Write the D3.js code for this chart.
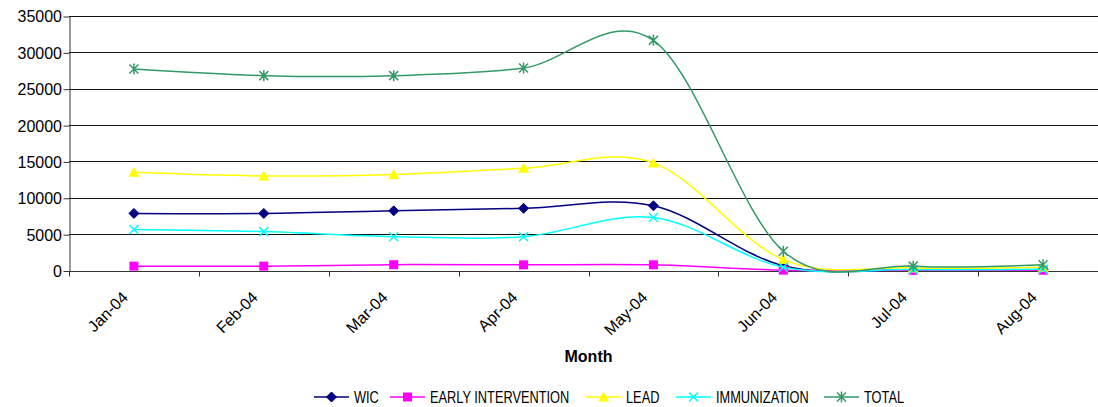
<!DOCTYPE html>
<html>
<head>
<meta charset="utf-8">
<script src="https://cdn.jsdelivr.net/npm/d3@7"></script>
<style>
  html, body { margin: 0; padding: 0; background: #fff; }
  svg { display: block; font-family: "Liberation Sans", Arial, sans-serif; }
</style>
</head>
<body>
<svg id="chart" width="1098" height="407"></svg>
<script>
// Monthly counts by program, 2004
const months = ["Jan-04", "Feb-04", "Mar-04", "Apr-04", "May-04", "Jun-04", "Jul-04", "Aug-04"];
const wic = [7850, 7850, 8200, 8550, 8900, 650, 100, 150];
const earlyIntervention = [600, 600, 800, 780, 780, 50, 30, 40];
const lead = [13500, 13000, 13200, 14050, 14800, 1500, 350, 450];
const immunization = [5650, 5350, 4650, 4650, 7300, 450, 120, 160];
const total = [27700, 26800, 26800, 27850, 31650, 2650, 600, 800];
const yTicks = [0, 5000, 10000, 15000, 20000, 25000, 30000, 35000];

const series = [
  { name: "WIC", values: wic, color: "#000080", marker: "diamond" },
  { name: "EARLY INTERVENTION", values: earlyIntervention, color: "#FF00FF", marker: "square" },
  { name: "LEAD", values: lead, color: "#FFFF00", marker: "triangle" },
  { name: "IMMUNIZATION", values: immunization, color: "#00FFFF", marker: "cross" },
  { name: "TOTAL", values: total, color: "#339966", marker: "star" }
];

const svg = d3.select("#chart");
const plot = { left: 69, right: 1108, top: 16, bottom: 270.5 };

const x = d3.scaleBand().domain(months).range([plot.left, plot.right]);
const y = d3.scaleLinear().domain([0, 35000]).range([plot.bottom, plot.top]);

// horizontal gridlines
svg.append("g")
  .selectAll("line")
  .data(yTicks)
  .join("line")
  .attr("x1", plot.left).attr("x2", plot.right)
  .attr("y1", d => Math.round(y(d)) + 0.5).attr("y2", d => Math.round(y(d)) + 0.5)
  .attr("stroke", "#111").attr("stroke-width", 1);

// y axis
const yAxis = svg.append("g")
  .attr("transform", `translate(${plot.left + 0.5},0.5)`)
  .call(d3.axisLeft(y).tickValues(yTicks).tickFormat(d3.format("d")).tickSize(6).tickSizeOuter(0));
yAxis.select(".domain").attr("stroke", "#333");
yAxis.selectAll(".tick line").attr("stroke", "#333");
yAxis.selectAll(".tick text")
  .attr("font-size", 16).attr("fill", "#000").attr("x", -7.5).attr("dy", "0.34em");

// x axis with ticks between categories
const xAxisG = svg.append("g").attr("transform", `translate(0,${Math.round(plot.bottom) + 0.5})`);
xAxisG.append("line")
  .attr("x1", plot.left).attr("x2", plot.right)
  .attr("stroke", "#333");
const boundaries = months.map(m => x(m)).concat([plot.right]);
xAxisG.selectAll("line.tick")
  .data(boundaries)
  .join("line")
  .attr("class", "tick")
  .attr("x1", d => Math.round(d) + 0.5).attr("x2", d => Math.round(d) + 0.5)
  .attr("y1", 0).attr("y2", 5)
  .attr("stroke", "#333");

xAxisG.selectAll("text")
  .data(months)
  .join("text")
  .attr("transform", d => `translate(${x(d) + x.bandwidth() / 2 - 5},${27}) rotate(-45)`)
  .attr("text-anchor", "end")
  .attr("font-size", 16)
  .attr("fill", "#000")
  .text(d => d);

// axis title
svg.append("text")
  .attr("x", (plot.left + plot.right) / 2)
  .attr("y", 362)
  .attr("text-anchor", "middle")
  .attr("font-size", 16)
  .attr("font-weight", "bold")
  .text("Month");

const cx = d => x(d) + x.bandwidth() / 2;

const line = d3.line()
  .x((d, i) => cx(months[i]))
  .y(d => y(d))
  .curve(d3.curveCatmullRom.alpha(0));

function drawMarker(g, type, color) {
  if (type === "diamond") {
    g.append("path").attr("d", "M0,-5L5,0L0,5L-5,0Z").attr("fill", color).attr("stroke", color);
  } else if (type === "square") {
    g.append("rect").attr("x", -4.5).attr("y", -4.5).attr("width", 9).attr("height", 9).attr("fill", color);
  } else if (type === "triangle") {
    g.append("path").attr("d", "M0,-5.5L5.5,4.5L-5.5,4.5Z").attr("fill", color);
  } else if (type === "cross") {
    g.append("path").attr("d", "M-4.5,-4.5L4.5,4.5M4.5,-4.5L-4.5,4.5")
      .attr("stroke", color).attr("stroke-width", 1.5).attr("fill", "none");
  } else if (type === "star") {
    g.append("path").attr("d", "M-4.5,-4.5L4.5,4.5M4.5,-4.5L-4.5,4.5M0,-5.5L0,5.5")
      .attr("stroke", color).attr("stroke-width", 1.5).attr("fill", "none");
  }
}

const seriesG = svg.append("g");
series.forEach(s => {
  const g = seriesG.append("g");
  g.append("path")
    .attr("d", line(s.values))
    .attr("fill", "none")
    .attr("stroke", s.color)
    .attr("stroke-width", 1.5);
  s.values.forEach((v, i) => {
    const m = g.append("g").attr("transform", `translate(${cx(months[i])},${y(v)})`);
    drawMarker(m, s.marker, s.color);
  });
});

// legend
const legendX = [314, 390, 586, 676, 824];
const legend = svg.append("g");
series.forEach((s, i) => {
  const g = legend.append("g").attr("transform", `translate(${legendX[i]},397)`);
  g.append("line").attr("x1", 0).attr("x2", 35).attr("stroke", s.color).attr("stroke-width", 1.5);
  drawMarker(g.append("g").attr("transform", "translate(17.5,0)"), s.marker, s.color);
  g.append("text")
    .attr("transform", "translate(40,5.5) scale(0.8,1)")
    .attr("font-size", 16)
    .attr("fill", "#000")
    .text(s.name);
});
</script>
</body>
</html>
